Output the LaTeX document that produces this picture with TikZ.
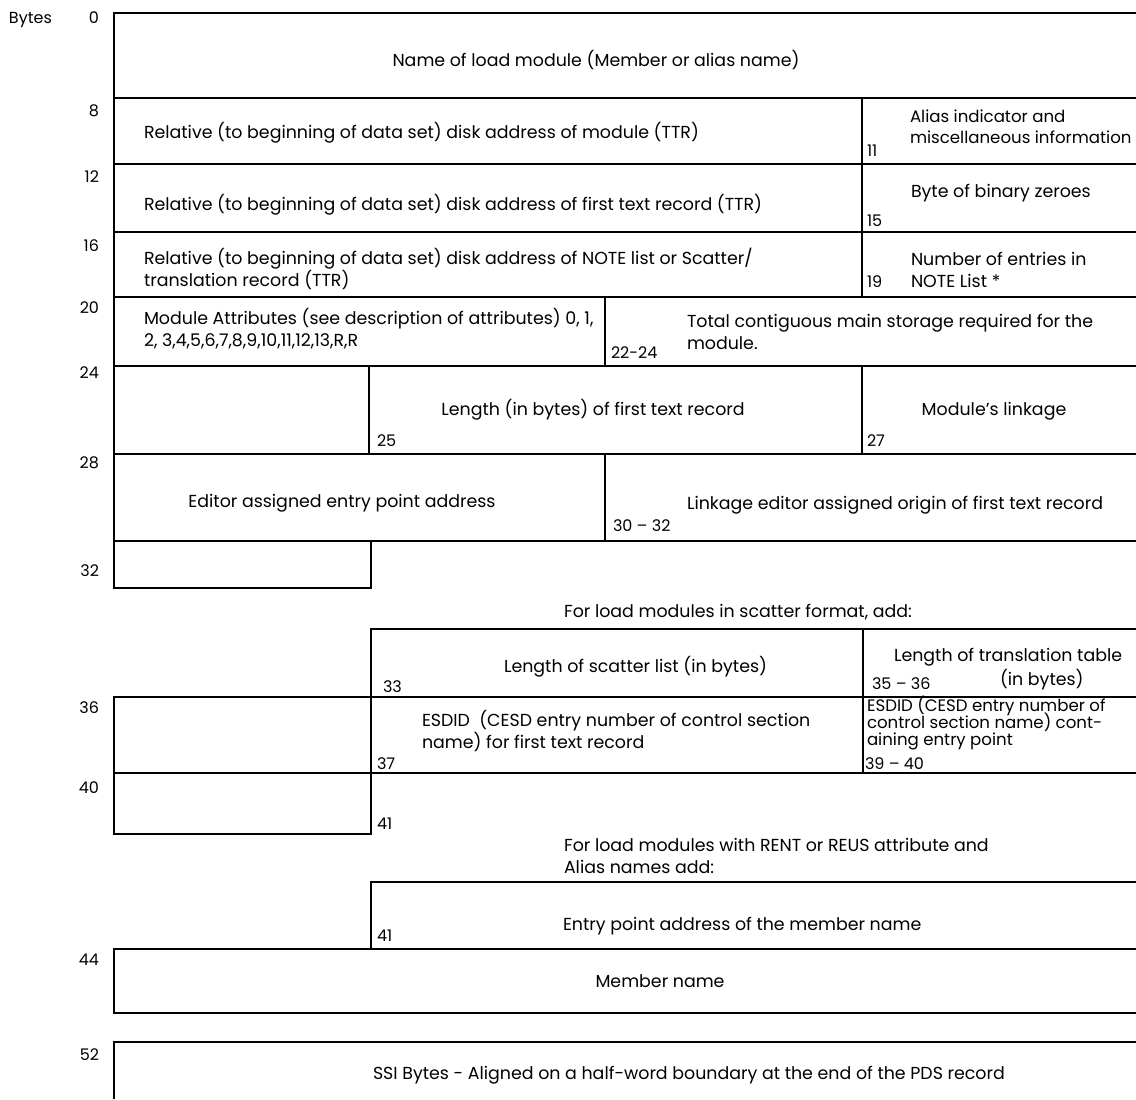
\documentclass[tikz,border=0pt]{standalone}
\usepackage{fontspec}
\setmainfont{Poppins}
\usepackage{tikz}

\begin{document}
\begin{tikzpicture}[
    x=0.5pt, y=-0.5pt,
    line width=1pt,
    txt/.style={
        font=\fontsize{8.7}{11}\selectfont,
        inner sep=0pt, anchor=base west, align=left
    },
    mid/.style={
        txt, anchor=base, align=center
    },
    off/.style={
        font=\fontsize{8}{9}\selectfont,
        inner sep=0pt, anchor=base west
    },
    num/.style={
        font=\fontsize{8}{9}\selectfont,
        inner sep=0pt, anchor=base east
    }
]
\useasboundingbox (0,0) rectangle (1136,1099);

% record frame
\draw (1136,13) -- (114,13) -- (114,588) -- (371,588) -- (371,541);
\draw (114,98) -- (1136,98);
\draw (114,164) -- (1136,164);
\draw (114,232) -- (1136,232);
\draw (114,297) -- (1136,297);
\draw (114,366) -- (1136,366);
\draw (114,454) -- (1136,454);
\draw (114,541) -- (1136,541);
\draw (862,98) -- (862,297);
\draw (605,297) -- (605,366);
\draw (369,366) -- (369,454);
\draw (862,366) -- (862,454);
\draw (605,454) -- (605,541);

% scatter format
\draw (1136,629) -- (371,629) -- (371,834) -- (114,834) -- (114,697) -- (1136,697);
\draw (114,773) -- (1136,773);
\draw (863,629) -- (863,773);

% RENT / REUS
\draw (1136,882) -- (371,882) -- (371,949);
\draw (1136,949) -- (114,949) -- (114,1013) -- (1136,1013);
\draw (1136,1042) -- (114,1042) -- (114,1099);

\node[off] (bytes) at (8,23) {Bytes};
\node[num] (b0) at (100,23) {0};
\node[num] (b8) at (100,116) {8};
\node[num] (b12) at (100,182) {12};
\node[num] (b16) at (100,251) {16};
\node[num] (b20) at (100,313) {20};
\node[num] (b24) at (100,378) {24};
\node[num] (b28) at (100,468) {28};
\node[num] (b32) at (100,576) {32};
\node[num] (b36) at (100,713) {36};
\node[num] (b40) at (100,793) {40};
\node[num] (b44) at (100,965) {44};
\node[num] (b52) at (100,1060) {52};

\node[mid] (name) at (596,66) {Name of load module (Member or alias name)};
\node[txt] (ttrmod) at (143,138) {Relative (to beginning of data set) disk address of module (TTR)};
\node[txt] (ttrtext) at (143,210) {Relative (to beginning of data set) disk address of first text record (TTR)};
\node[txt] (ttrnote) at (143,286) {Relative (to beginning of data set) disk address of NOTE list or Scatter/\\translation record (TTR)};
\node[txt, font=\fontsize{8.3}{10.5}\selectfont] (alias) at (909,143) {Alias indicator and\\miscellaneous information};
\node[txt] (zeroes) at (910,197) {Byte of binary zeroes};
\node[txt] (notecnt) at (910,287) {Number of entries in\\NOTE List *};
\node[txt] (attr) at (143,346) {Module Attributes (see description of attributes) 0, 1,\\2, 3,4,5,6,7,8,9,10,11,12,13,R,R};
\node[txt] (storage) at (686,349) {Total contiguous main storage required for the\\module.};
\node[mid] (lentext) at (593,415) {Length (in bytes) of first text record};
\node[mid] (linkage) at (994,415) {Module's linkage};
\node[mid] (entry) at (342,507) {Editor assigned entry point address};
\node[txt] (origin) at (686,509) {Linkage editor assigned origin of first text record};

\node[off] (o11) at (866,156) {11};
\node[off] (o15) at (866,226) {15};
\node[off] (o19) at (866,287) {19};
\node[off] (o22) at (610,358) {22-24};
\node[off] (o25) at (376,446) {25};
\node[off] (o27) at (866,446) {27};
\node[off] (o30) at (612,531) {30 -- 32};

\node[txt] (scathd) at (563,617) {For load modules in scatter format, add:};
\node[txt] (lenscat) at (503,672) {Length of scatter list (in bytes)};
\node[txt] (lentrans) at (893,661) {Length of translation table};
\node[txt] (inbytes) at (999,685) {(in bytes)};
\node[txt] (esdid) at (421,748) {ESDID\ \ (CESD entry number of control section\\name) for first text record};
\node[txt, font={\fontsize{8.3}{8.5}\selectfont\lineskiplimit=-10pt\relax}] (esdidep) at (866,745) {ESDID (CESD entry number of\\control section name) cont-\\aining entry point};

\node[off] (o33) at (382,692) {33};
\node[off] (o35) at (871,689) {35 -- 36};
\node[off] (o37) at (376,769) {37};
\node[off] (o39) at (864,769) {39 -- 40};
\node[off] (o41a) at (376,829) {41};

\node[txt] (renthd) at (563,873) {For load modules with RENT or REUS attribute and\\Alias names add:};
\node[txt] (epaddr) at (562,930) {Entry point address of the member name};
\node[off] (o41b) at (376,941) {41};
\node[mid] (member) at (660,987) {Member name};
\node[txt] (ssi) at (372,1079) {SSI Bytes - Aligned on a half-word boundary at the end of the PDS record};
\end{tikzpicture}
\end{document}
